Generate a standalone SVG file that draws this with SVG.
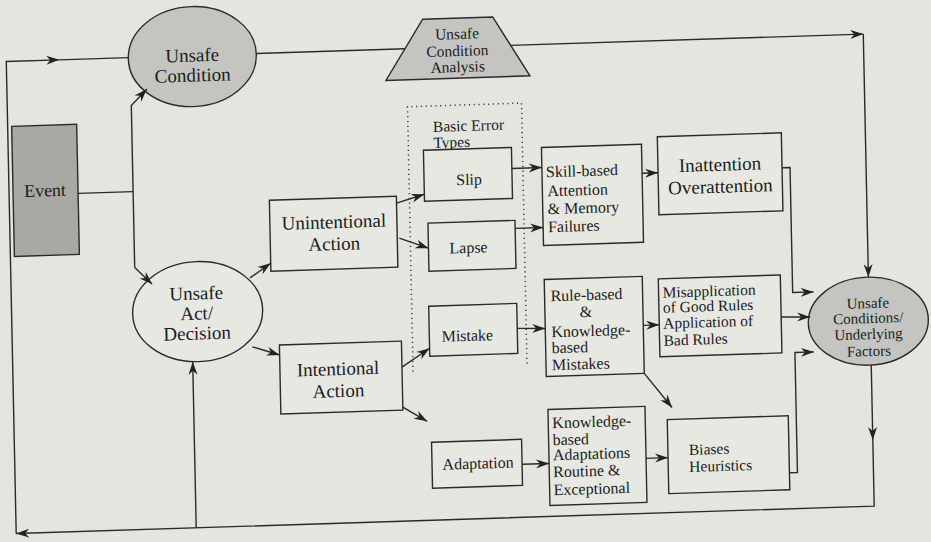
<svg xmlns="http://www.w3.org/2000/svg" width="931" height="542" viewBox="0 0 931 542">
<style>
  .bg{fill:#e4e5de}
  .box{fill:#e7e8e1;stroke:#2a2a2a;stroke-width:1.4}
  .grey{fill:#c4c5c0;stroke:#2a2a2a;stroke-width:1.4}
  .dark{fill:#a8a9a5;stroke:#2a2a2a;stroke-width:1.4}
  .ln{fill:none;stroke:#2a2a2a;stroke-width:1.4}
  .arr{fill:none;stroke:#2a2a2a;stroke-width:1.4;marker-end:url(#ah)}
  .dot{fill:none;stroke:#3a3a3a;stroke-width:1.5;stroke-dasharray:1.2 3.6}
  text{font-family:"Liberation Serif","DejaVu Serif","Times New Roman",serif;fill:#1c1c1c}
  .l{font-size:19px;text-anchor:middle}
  .m{font-size:16px}
  .mc{font-size:16px;text-anchor:middle}
  .s{font-size:15px;text-anchor:middle}
  .t{font-size:15.5px}
</style>
<defs>
  <marker id="ah" markerUnits="userSpaceOnUse" markerWidth="14" markerHeight="10" refX="13" refY="5" orient="auto">
    <path d="M0,0.5 L13,5 L0,9.5 L4,5 z" fill="#222"/>
  </marker>
</defs>
<rect class="bg" x="0" y="0" width="931" height="542"/>
<g transform="matrix(1,-0.032,0.021,1,-5.7,14.9)">
  <g id="unsafe-condition">
    <ellipse class="grey" cx="197" cy="48" rx="64" ry="50"/>
    <text class="l" x="197" y="53">Unsafe</text>
    <text class="l" x="197" y="73">Condition</text>
  </g>
  <g id="condition-analysis">
    <polygon class="grey" points="428,18 498,18 534,78 390,78"/>
    <text class="s t" x="462" y="39">Unsafe</text>
    <text class="s t" x="462" y="56">Condition</text>
    <text class="s t" x="462" y="72">Analysis</text>
  </g>
  <g id="event">
    <rect class="dark" x="15" y="112" width="65" height="130"/>
    <text class="l" x="47" y="183" style="font-size:18px">Event</text>
  </g>
  <g id="unsafe-act">
    <ellipse class="box" cx="197" cy="303" rx="65" ry="50"/>
    <text class="l" x="196" y="291">Unsafe</text>
    <text class="l" x="196" y="311">Act/</text>
    <text class="l" x="196" y="331">Decision</text>
  </g>
  <g id="unintentional">
    <rect class="box" x="271" y="194" width="127" height="71"/>
    <text class="l" x="335" y="224">Unintentional</text>
    <text class="l" x="335" y="246">Action</text>
  </g>
  <g id="intentional">
    <rect class="box" x="278" y="339" width="122" height="69"/>
    <text class="l" x="336" y="371">Intentional</text>
    <text class="l" x="336" y="393">Action</text>
  </g>
  <g id="basic-error-types">
    <path class="dot" d="M411,370 L411,105 L525,105 L525,369"/>
    <text class="m t" x="436" y="131">Basic Error</text>
    <text class="m t" x="436" y="147">Types</text>
  </g>
  <g id="slip">
    <rect class="box" x="426" y="149" width="88" height="51"/>
    <text class="mc" x="471" y="185">Slip</text>
  </g>
  <g id="lapse">
    <rect class="box" x="429" y="222" width="87" height="48"/>
    <text class="mc" x="469" y="253">Lapse</text>
  </g>
  <g id="mistake">
    <rect class="box" x="428" y="305" width="88" height="50"/>
    <text class="mc" x="466" y="341">Mistake</text>
  </g>
  <g id="adaptation">
    <rect class="box" x="428" y="441" width="90" height="46"/>
    <text class="mc" x="474" y="469">Adaptation</text>
  </g>
  <g id="skill-based">
    <rect class="box" x="544" y="150" width="100" height="98"/>
    <text class="m" x="548" y="180">Skill-based</text>
    <text class="m" x="549" y="199">Attention</text>
    <text class="m" x="549" y="217">&amp; Memory</text>
    <text class="m" x="549" y="235">Failures</text>
  </g>
  <g id="inattention">
    <rect class="box" x="660" y="143" width="124" height="78"/>
    <text class="l" x="722" y="179">Inattention</text>
    <text class="l" x="722" y="201">Overattention</text>
  </g>
  <g id="rule-based">
    <rect class="box" x="544" y="282" width="98" height="97"/>
    <text class="m" x="550" y="304">Rule-based</text>
    <text class="mc" x="585" y="321">&amp;</text>
    <text class="m" x="550" y="340">Knowledge-</text>
    <text class="m" x="550" y="356">based</text>
    <text class="m" x="550" y="373">Mistakes</text>
  </g>
  <g id="misapplication">
    <rect class="box" x="658" y="285" width="122" height="78"/>
    <text class="m t" x="662" y="304">Misapplication</text>
    <text class="m t" x="662" y="319">of Good Rules</text>
    <text class="m t" x="662" y="335">Application of</text>
    <text class="m t" x="662" y="352">Bad Rules</text>
  </g>
  <g id="knowledge-adaptations">
    <rect class="box" x="545" y="412" width="97" height="96"/>
    <text class="m" x="549" y="431">Knowledge-</text>
    <text class="m" x="549" y="448">based</text>
    <text class="m" x="549" y="463">Adaptations</text>
    <text class="m" x="549" y="480">Routine &amp;</text>
    <text class="m" x="549" y="498">Exceptional</text>
  </g>
  <g id="biases">
    <rect class="box" x="664" y="426" width="121" height="74"/>
    <text class="m t" x="685" y="462">Biases</text>
    <text class="m t" x="685" y="479">Heuristics</text>
  </g>
  <g id="unsafe-conditions">
    <ellipse class="grey" cx="867" cy="334" rx="60" ry="44"/>
    <text class="s" x="867" y="321">Unsafe</text>
    <text class="s" x="867" y="336">Conditions/</text>
    <text class="s" x="867" y="352">Underlying</text>
    <text class="s" x="867" y="369">Factors</text>
  </g>
  <g id="connectors">
    <path class="arr" d="M11,519 L11,47 L64,47"/>
    <path class="ln" d="M64,47 L133,47"/>
    <path class="ln" d="M261,47 L410,47"/>
    <path class="arr" d="M515,47 L868,47"/>
    <path class="arr" d="M868,47 L868,290"/>
    <path class="ln" d="M80,181 L135,181"/>
    <path class="arr" d="M135,257 L135,95 L151,79"/>
    <path class="arr" d="M135,257 L152,274"/>
    <path class="arr" d="M250,271 L271,257"/>
    <path class="arr" d="M251,340 L278,349"/>
    <path class="arr" d="M191,519 L191,353"/>
    <path class="arr" d="M398,201 L426,193"/>
    <path class="arr" d="M400,236 L429,247"/>
    <path class="arr" d="M400,365 L428,347"/>
    <path class="arr" d="M400,405 L424,420"/>
    <path class="arr" d="M514,170 L544,170"/>
    <path class="arr" d="M516,230 L544,230"/>
    <path class="arr" d="M516,330 L544,331"/>
    <path class="arr" d="M644,179 L660,179"/>
    <path class="arr" d="M642,331 L658,331"/>
    <path class="arr" d="M642,379 L669,414"/>
    <path class="arr" d="M518,466 L545,466"/>
    <path class="arr" d="M642,464 L664,464"/>
    <path class="arr" d="M784,178 L792,178 L792,303 L813,303"/>
    <path class="arr" d="M780,327 L809,328"/>
    <path class="arr" d="M785,483 L793,483 L793,363 L812,363"/>
    <path class="arr" d="M869,378 L869,453"/>
    <path class="arr" d="M869,453 L869,519 L11,519"/>
  </g>
</g>
</svg>
